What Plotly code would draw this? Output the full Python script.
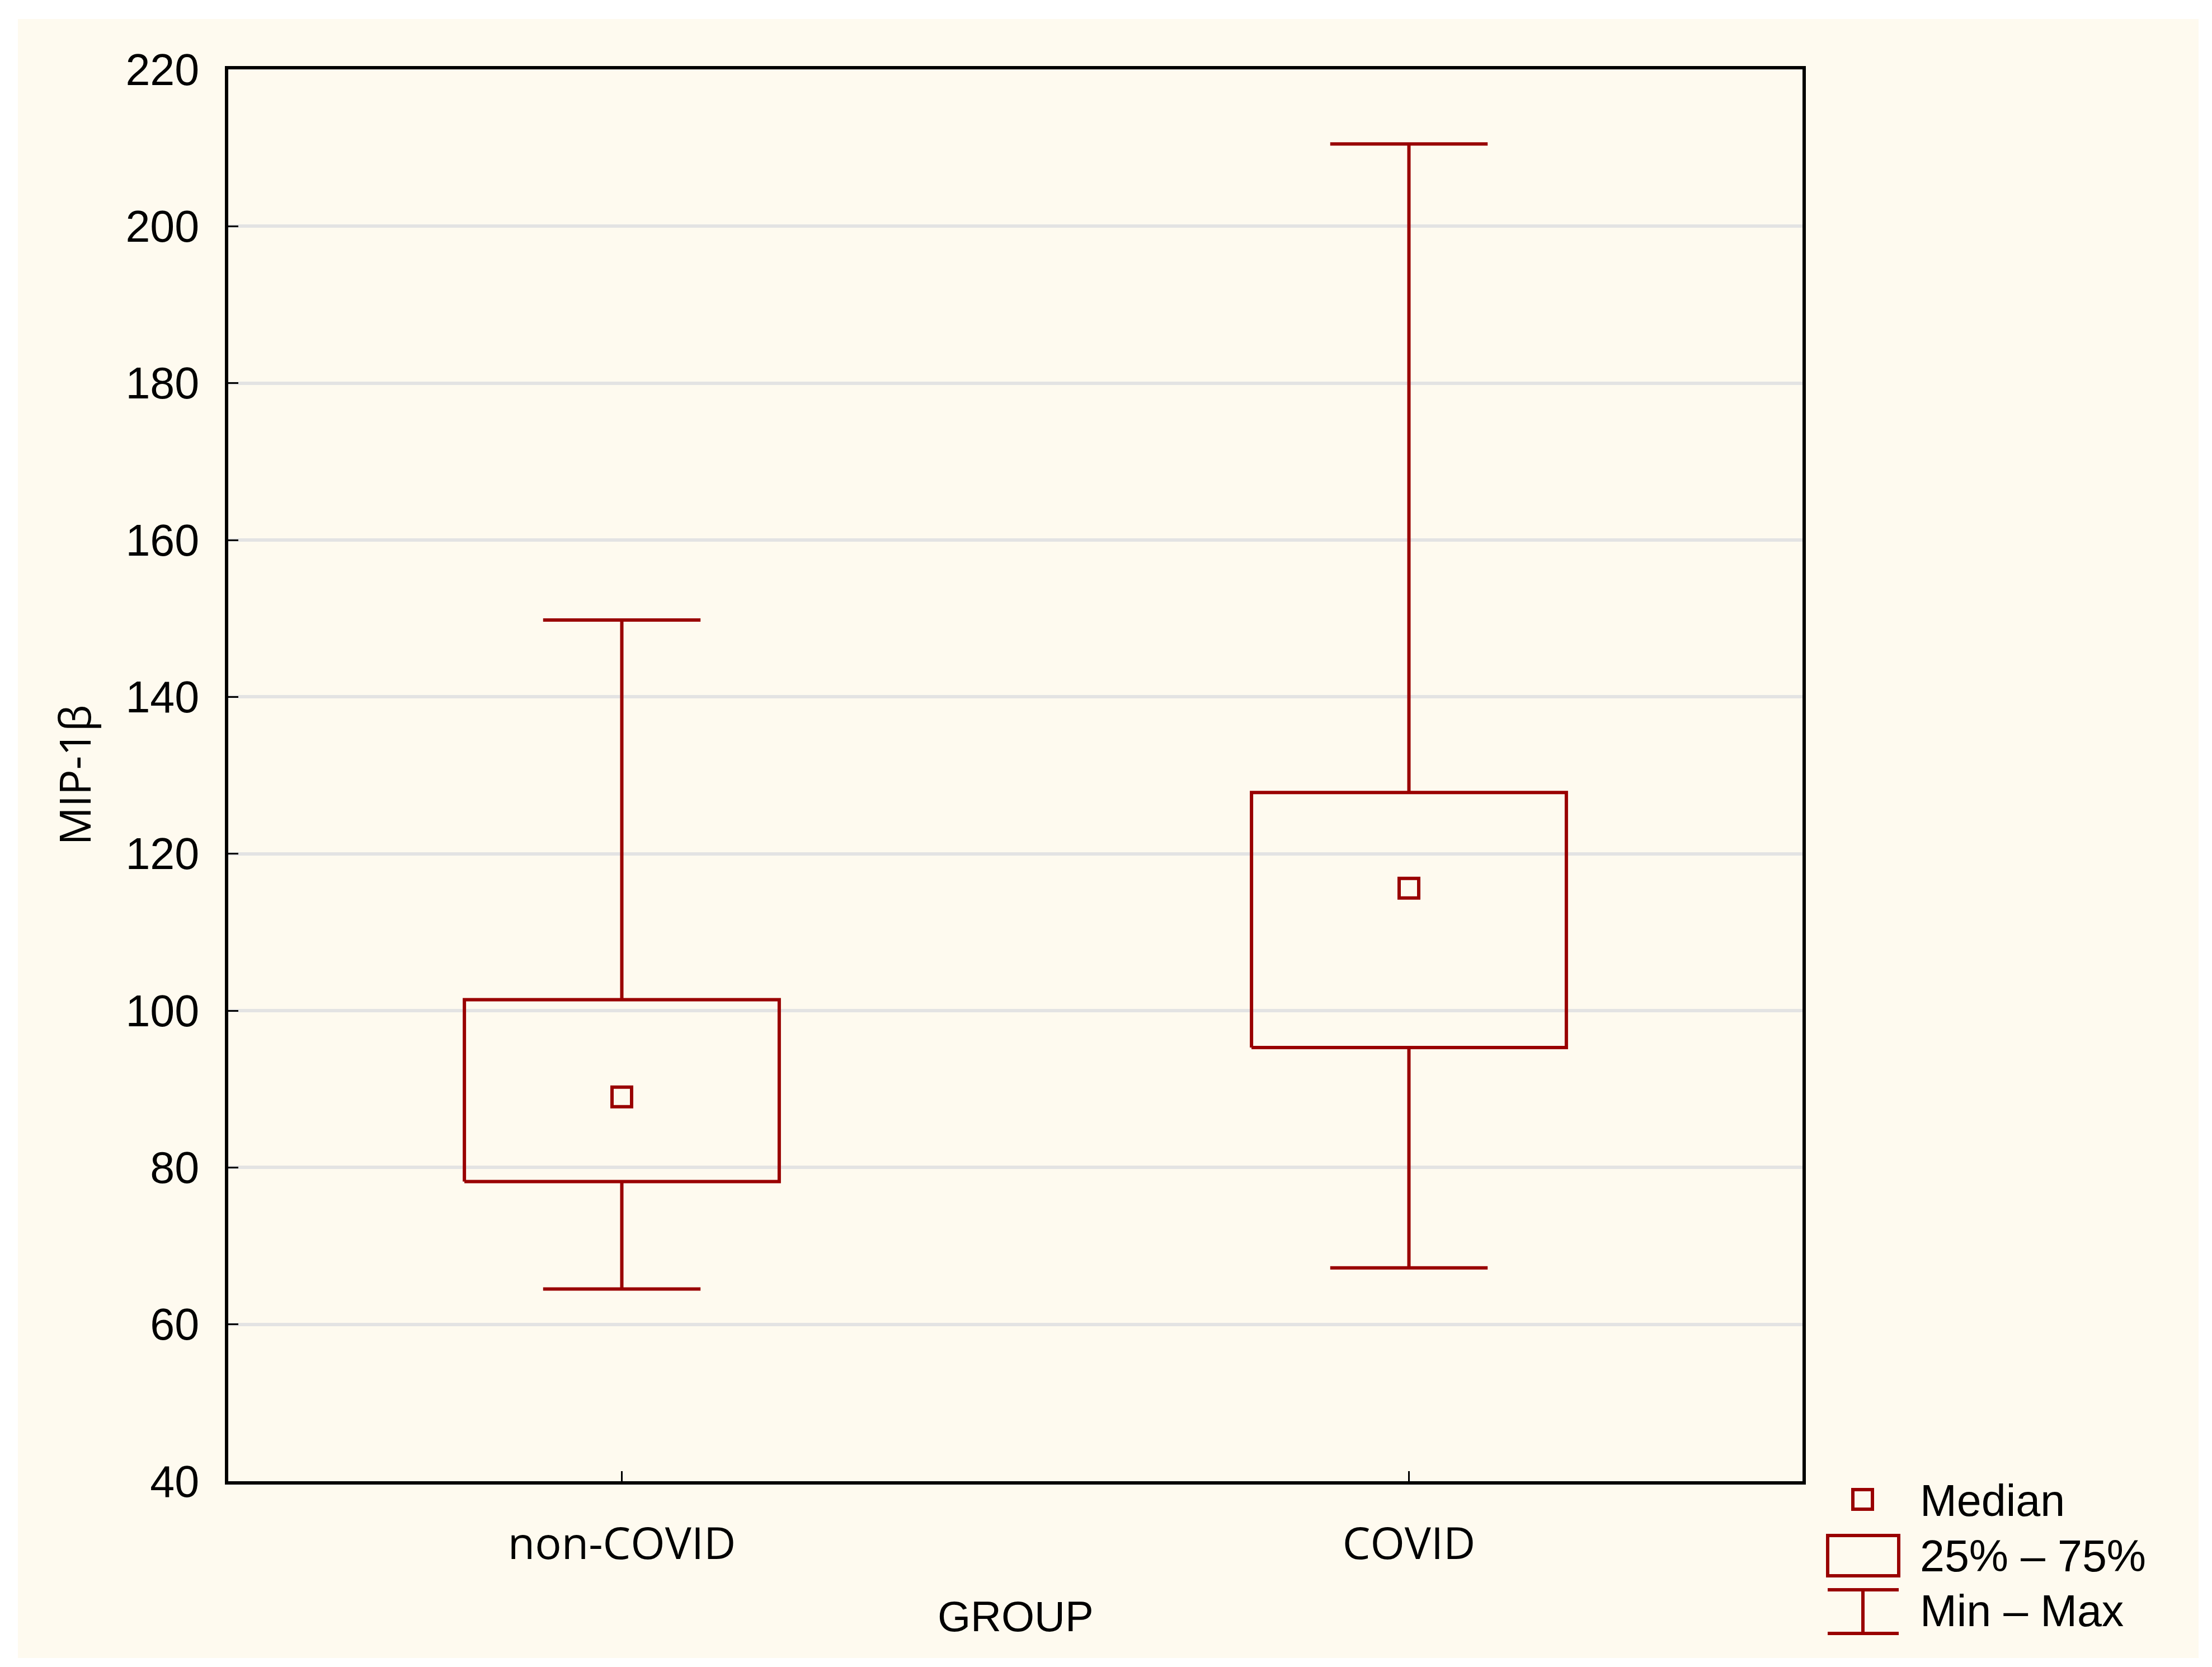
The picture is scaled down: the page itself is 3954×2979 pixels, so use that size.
import plotly.graph_objects as go

# ---- data ----
categories = ["non-COVID", "COVID"]
minimum = [64.5, 67.2]
q1 = [78.2, 95.3]
median = [89.0, 115.6]
q3 = [101.4, 127.8]
maximum = [149.8, 210.5]
y_ticks = [40, 60, 80, 100, 120, 140, 160, 180, 200, 220]
legend_labels = ["Median", "25% \u2013 75%", "Min \u2013 Max"]

RED = "#990000"
BEIGE = "#FEFAEF"
W, H = 3954, 2979
L, R, T, B = 400, 3214, 116, 2639  # plot area in pixels

BOX_HALF = 0.2
CAP_HALF = 0.1
LW = 6

def px(x):
    return (x - L) / (R - L)

def py(y):
    return (B - y) / (B - T)

xs = list(range(len(categories)))

# boxes
bx, by = [], []
for i in xs:
    bx += [i - BOX_HALF, i + BOX_HALF, i + BOX_HALF, i - BOX_HALF, i - BOX_HALF, None]
    by += [q1[i], q1[i], q3[i], q3[i], q1[i], None]

# whiskers + caps
wx, wy = [], []
for i in xs:
    wx += [i, i, None, i - CAP_HALF, i + CAP_HALF, None]
    wy += [q3[i], maximum[i], None, maximum[i], maximum[i], None]
    wx += [i, i, None, i - CAP_HALF, i + CAP_HALF, None]
    wy += [q1[i], minimum[i], None, minimum[i], minimum[i], None]

fig = go.Figure()
fig.add_trace(go.Scatter(x=wx, y=wy, mode="lines", line=dict(color=RED, width=LW),
                         showlegend=False, hoverinfo="skip"))
fig.add_trace(go.Scatter(x=bx, y=by, mode="lines", line=dict(color=RED, width=LW),
                         showlegend=False, hoverinfo="skip"))
fig.add_trace(go.Scatter(x=xs, y=median, mode="markers",
                         marker=dict(symbol="square-open", size=35, color=RED,
                                     line=dict(color=RED, width=LW)),
                         showlegend=False))

shapes = []
# beige page background
shapes.append(dict(type="rect", xref="paper", yref="paper", layer="below",
                   x0=px(24), x1=px(3922), y0=py(2955), y1=py(26),
                   fillcolor=BEIGE, line=dict(width=0)))

# legend glyphs
shapes.append(dict(type="rect", xref="paper", yref="paper",
                   x0=px(3304), x1=px(3339), y0=py(2689), y1=py(2654),
                   line=dict(color=RED, width=LW), fillcolor="rgba(0,0,0,0)"))
shapes.append(dict(type="rect", xref="paper", yref="paper",
                   x0=px(3259), x1=px(3386), y0=py(2808), y1=py(2736),
                   line=dict(color=RED, width=LW), fillcolor="rgba(0,0,0,0)"))
for yy in (2833, 2911):
    shapes.append(dict(type="line", xref="paper", yref="paper",
                       x0=px(3259), x1=px(3386), y0=py(yy), y1=py(yy),
                       line=dict(color=RED, width=LW)))
shapes.append(dict(type="line", xref="paper", yref="paper",
                   x0=px(3322), x1=px(3322), y0=py(2833), y1=py(2911),
                   line=dict(color=RED, width=LW)))

annotations = []
for lab, yy in zip(legend_labels, (2673, 2772, 2870)):
    annotations.append(dict(text=lab, xref="paper", yref="paper", x=px(3422), y=py(yy),
                            xanchor="left", yanchor="middle", showarrow=False,
                            font=dict(family="Liberation Sans, Arial", size=79, color="black")))
annotations.append(dict(text="GROUP", xref="paper", yref="paper", x=0.5, y=py(2880),
                        xanchor="center", yanchor="middle", showarrow=False,
                        font=dict(family="Liberation Sans, Arial", size=76, color="black")))
annotations.append(dict(text="MIP-1\u03b2", xref="paper", yref="paper", x=px(124), y=0.5,
                        xanchor="center", yanchor="middle", showarrow=False, textangle=-90,
                        font=dict(family="Open Sans, Noto Sans", size=76, color="black")))

fig.update_layout(
    width=W, height=H,
    margin=dict(l=L, r=W - R, t=T, b=H - B, autoexpand=False),
    paper_bgcolor="white",
    plot_bgcolor="white",
    shapes=shapes,
    annotations=annotations,
    showlegend=False,
)
fig.update_xaxes(range=[-0.5, 1.5], tickmode="array", tickvals=xs, ticktext=categories,
                 showgrid=False, zeroline=False, showline=True, mirror=True,
                 linecolor="black", linewidth=6, ticks="inside", ticklen=18, tickwidth=3,
                 tickcolor="black", ticklabelstandoff=38,
                 tickfont=dict(family="Open Sans, Noto Sans", size=79, color="black"))
fig.update_yaxes(range=[40, 220], tickmode="array", tickvals=y_ticks,
                 showgrid=True, gridcolor="#E3E3E3", gridwidth=6, zeroline=False,
                 showline=True, mirror=True, linecolor="black", linewidth=6,
                 ticks="inside", ticklen=18, tickwidth=3, tickcolor="black",
                 ticklabelstandoff=30,
                 tickfont=dict(family="Liberation Sans, Arial", size=79, color="black"))

fig.write_html("out.html")
